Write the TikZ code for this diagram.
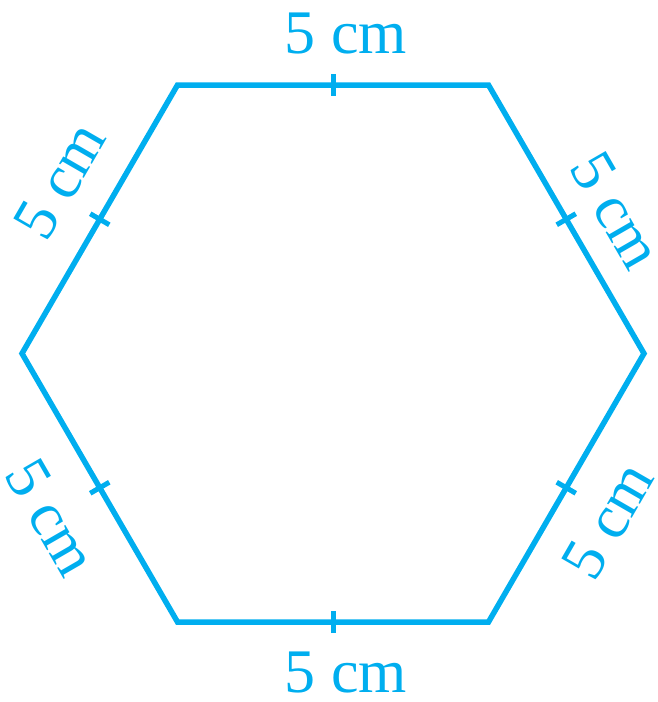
\documentclass[tikz,border=0pt]{standalone}
\usepackage{fontspec}
\setmainfont{Liberation Serif}
\usetikzlibrary{calc}
\definecolor{hexcyan}{RGB}{0,174,239}
\tikzset{
  side/.style={draw=hexcyan, line width=5.5pt, line join=miter},
  tickmark/.style={draw=hexcyan, line width=5pt},
  lab/.style={text=hexcyan, font=\fontsize{62}{70}\selectfont, inner sep=0pt}
}
\begin{document}
\begin{tikzpicture}[x=1pt,y=-1pt]
\useasboundingbox (0,0) rectangle (658,702);
\coordinate (L) at (22,353.5);
\coordinate (TL) at (177.5,85);
\coordinate (TR) at (488.5,85);
\coordinate (R) at (644,353.5);
\coordinate (BR) at (488.5,622);
\coordinate (BL) at (177.5,622);
\draw[side] (L) -- (TL) -- (TR) -- (R) -- (BR) -- (BL) -- cycle;
\foreach \a/\b in {L/TL, TL/TR, TR/R, R/BR, BR/BL, BL/L}{
  \coordinate (m) at ($(\a)!0.5!(\b)$);
  \draw[tickmark] ($(m)!11pt!90:(\b)$) -- ($(m)!11pt!-90:(\b)$);
}
\node[lab] (ltop) at (346,34) {5 cm};
\node[lab] (lbot) at (346,672) {5 cm};
\node[lab, rotate=60] (lul) at (60,181) {5 cm};
\node[lab, rotate=-60] (lur) at (616,210) {5 cm};
\node[lab, rotate=-60] (lll) at (51,517) {5 cm};
\node[lab, rotate=60] (llr) at (608,521) {5 cm};
\end{tikzpicture}
\end{document}
